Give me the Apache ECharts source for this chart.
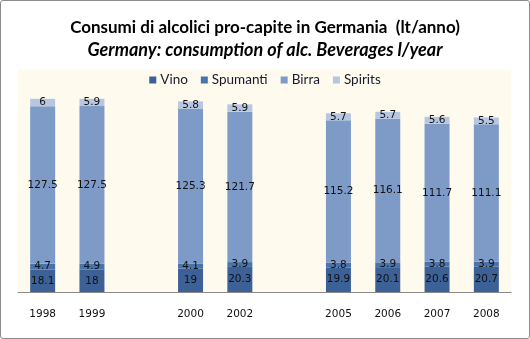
<!DOCTYPE html>
<html>
<head>
<meta charset="utf-8">
<script src="https://cdn.jsdelivr.net/npm/echarts@6/dist/echarts.min.js"></script>
<style>
html,body{margin:0;padding:0;background:#fff;}
#wrap{position:absolute;left:0;top:0;width:528px;height:337px;border:1px solid #8c8c8c;border-radius:3px;}
#c{width:528px;height:337px;}
</style>
</head>
<body>
<div id="wrap"><div id="c"></div></div>
<script>
const categories = ['1998', '1999', '', '2000', '2002', '', '2005', '2006', '2007', '2008'];
const vino     = [18.1, 18.0, '-', 19.0, 20.3, '-', 19.9, 20.1, 20.6, 20.7];
const spumanti = [4.7, 4.9, '-', 4.1, 3.9, '-', 3.8, 3.9, 3.8, 3.9];
const birra    = [127.5, 127.5, '-', 125.3, 121.7, '-', 115.2, 116.1, 111.7, 111.1];
const spirits  = [6, 5.9, '-', 5.8, 5.9, '-', 5.7, 5.7, 5.6, 5.5];
const seriesNames = ['Vino', 'Spumanti', 'Birra', 'Spirits'];
const colors = ['#3b6196', '#4873ab', '#7e9bc8', '#b8c7e1'];

const chart = echarts.init(document.getElementById('c'), null, {renderer: 'canvas'});
const labelStyle = {
  show: true, position: 'inside', color: '#111',
  fontFamily: 'DejaVu Sans', fontSize: 10.5,
  formatter: p => (p.value === '-' ? '' : String(p.value))
};
const mk = (name, data, i) => ({
  name, type: 'bar', stack: 'total', data,
  barWidth: 25,
  itemStyle: {color: colors[i]},
  label: labelStyle,
  emphasis: {disabled: true}
});
chart.setOption({
  animation: false,
  title: [{
    text: 'Consumi di alcolici pro-capite in Germania  (lt/anno)',
    left: 'center', top: 13,
    textStyle: {fontFamily: 'Lato', fontWeight: 'bold', fontSize: 17, color: '#000'}
  }, {
    text: 'Germany: consumption of alc. Beverages l/year',
    left: 'center', top: 35,
    textStyle: {fontFamily: 'Lato', fontWeight: 'bold', fontStyle: 'italic', fontSize: 18, color: '#000'}
  }],
  legend: {
    data: seriesNames, top: 67, left: 'center',
    itemWidth: 7, itemHeight: 7, itemGap: 13,
    icon: 'rect',
    textStyle: {fontFamily: 'Lato', fontSize: 13.5, color: '#1a1a2e', padding: [0, 0, 0, -1]}
  },
  grid: {
    left: 17, right: 18, top: 68.5, bottom: 46,
    show: true, backgroundColor: '#fefaee', borderWidth: 0
  },
  xAxis: {
    type: 'category', data: categories,
    axisLine: {lineStyle: {color: '#8a8a8a', width: 1}},
    axisTick: {show: false},
    axisLabel: {fontFamily: 'DejaVu Sans', fontSize: 10.5, color: '#111', margin: 17}
  },
  yAxis: {
    type: 'value', min: 0, max: 180, show: false,
    splitLine: {show: false}
  },
  series: [
    mk('Vino', vino, 0),
    mk('Spumanti', spumanti, 1),
    mk('Birra', birra, 2),
    mk('Spirits', spirits, 3)
  ]
});
</script>
</body>
</html>
